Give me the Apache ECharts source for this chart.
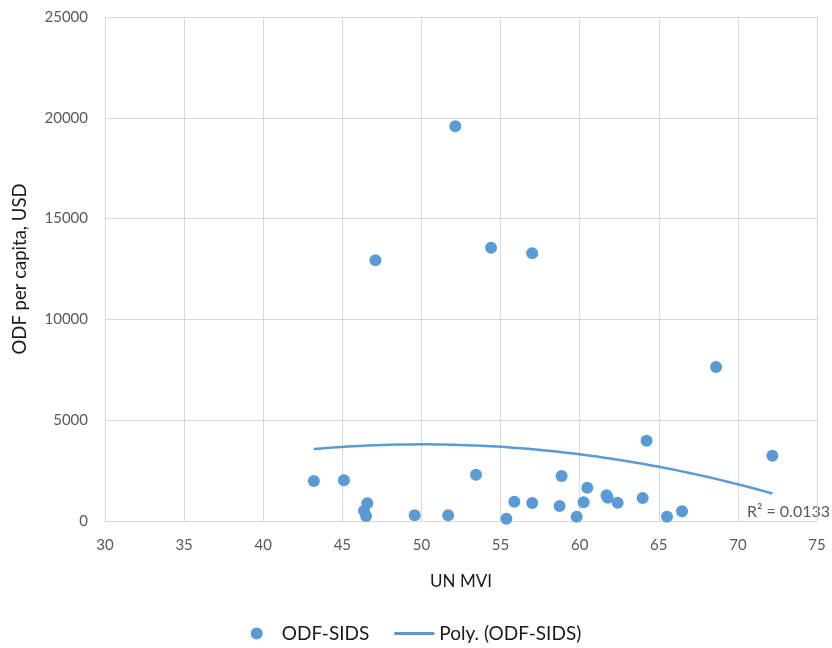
<!DOCTYPE html>
<html>
<head>
<meta charset="utf-8">
<script src="https://cdn.jsdelivr.net/npm/echarts@6/dist/echarts.min.js"></script>
<style>html,body{margin:0;padding:0;background:#fff}#c{width:832px;height:648px}</style>
</head>
<body>
<div id="c"></div>
<script>
const mviValues = [43.2, 45.1, 46.58, 46.37, 46.5, 49.57, 51.69, 53.45, 55.37, 55.87, 57.0, 58.73, 58.86, 59.81, 60.25, 60.48, 61.7, 61.77, 62.4, 63.98, 64.23, 65.52, 66.47, 72.18, 47.09, 52.14, 54.4, 57.0, 68.62];
const odfValues = [1984, 2018, 878, 511, 248, 283, 283, 2297, 114, 957, 893, 744, 2232, 215, 927, 1653, 1273, 1157, 909, 1141, 3985, 215, 480, 3241, 12930, 19577, 13557, 13277, 7639];
const xTicks = [30, 35, 40, 45, 50, 55, 60, 65, 70, 75];
const yTicks = [0, 5000, 10000, 15000, 20000, 25000];
const rSquaredText = 'R² = 0.0133';

// order-2 polynomial least-squares trendline from the data
function polyFit2(xs, ys) {
  let n = xs.length, s = [0,0,0,0,0], t = [0,0,0];
  for (let i = 0; i < n; i++) {
    let p = 1;
    for (let k = 0; k < 5; k++) { s[k] += p; if (k < 3) t[k] += p * ys[i]; p *= xs[i]; }
  }
  const M = [[s[0],s[1],s[2],t[0]],[s[1],s[2],s[3],t[1]],[s[2],s[3],s[4],t[2]]];
  for (let i = 0; i < 3; i++) {
    for (let j = i + 1; j < 3; j++) {
      const f = M[j][i] / M[i][i];
      for (let k = i; k < 4; k++) M[j][k] -= f * M[i][k];
    }
  }
  const c = [0,0,0];
  for (let i = 2; i >= 0; i--) {
    let v = M[i][3];
    for (let k = i + 1; k < 3; k++) v -= M[i][k] * c[k];
    c[i] = v / M[i][i];
  }
  return c;
}
const coef = polyFit2(mviValues, odfValues);
const xMin = Math.min(...mviValues), xMax = Math.max(...mviValues);
const trend = [];
for (let i = 0; i <= 60; i++) {
  const x = xMin + (xMax - xMin) * i / 60;
  trend.push([x, coef[0] + coef[1] * x + coef[2] * x * x]);
}

const FONT = 'Lato, "Liberation Sans", sans-serif';
const chart = echarts.init(document.getElementById('c'), null, {renderer: 'canvas'});
chart.setOption({
  animation: false,
  backgroundColor: '#fff',
  textStyle: {fontFamily: FONT},
  grid: {left: 105, right: 15, top: 17, bottom: 127, containLabel: false},
  xAxis: {
    type: 'value', min: xTicks[0], max: xTicks[xTicks.length - 1], interval: 5,
    name: 'UN MVI', nameLocation: 'middle', nameGap: 52,
    nameTextStyle: {fontSize: 17, color: '#1a1a1a', fontFamily: FONT},
    axisLine: {show: true, lineStyle: {color: '#D9D9D9', width: 1}},
    axisTick: {show: false},
    axisLabel: {fontSize: 15, color: '#595959', margin: 17, fontFamily: FONT},
    splitLine: {show: true, lineStyle: {color: '#D9D9D9', width: 1}}
  },
  yAxis: {
    type: 'value', min: yTicks[0], max: yTicks[yTicks.length - 1], interval: 5000,
    name: 'ODF per capita, USD', nameLocation: 'middle', nameGap: 75, nameRotate: 90,
    nameTextStyle: {fontSize: 18.5, color: '#1a1a1a', fontFamily: FONT},
    axisLine: {show: false},
    axisTick: {show: false},
    axisLabel: {fontSize: 15, color: '#595959', margin: 17, fontFamily: FONT,
      formatter: v => String(v)},
    splitLine: {show: true, lineStyle: {color: '#D9D9D9', width: 1}}
  },
  legend: {
    bottom: 0, left: 'center', itemGap: 25, itemWidth: 40, itemHeight: 12,
    symbolKeepAspect: true,
    textStyle: {fontSize: 19, color: '#1a1a1a', fontFamily: FONT},
    data: [
      {name: 'ODF-SIDS', icon: 'circle'},
      {name: 'Poly. (ODF-SIDS)', icon: 'path://M0,0h40v3h-40z'}
    ]
  },
  series: [
    {
      name: 'ODF-SIDS', type: 'scatter', symbol: 'circle', symbolSize: 12,
      itemStyle: {color: '#5B9BD5', opacity: 1},
      data: mviValues.map((x, i) => [x, odfValues[i]]),
      z: 3
    },
    {
      name: 'Poly. (ODF-SIDS)', type: 'line', showSymbol: false, symbol: 'none', smooth: false,
      lineStyle: {color: '#5B9BD5', width: 2.5},
      itemStyle: {color: '#5B9BD5'},
      data: trend,
      z: 2
    }
  ],
  graphic: [{
    type: 'text', right: 2, top: 504,
    style: {text: rSquaredText, fontSize: 16, fill: '#595959', fontFamily: FONT}
  }]
});
</script>
</body>
</html>
